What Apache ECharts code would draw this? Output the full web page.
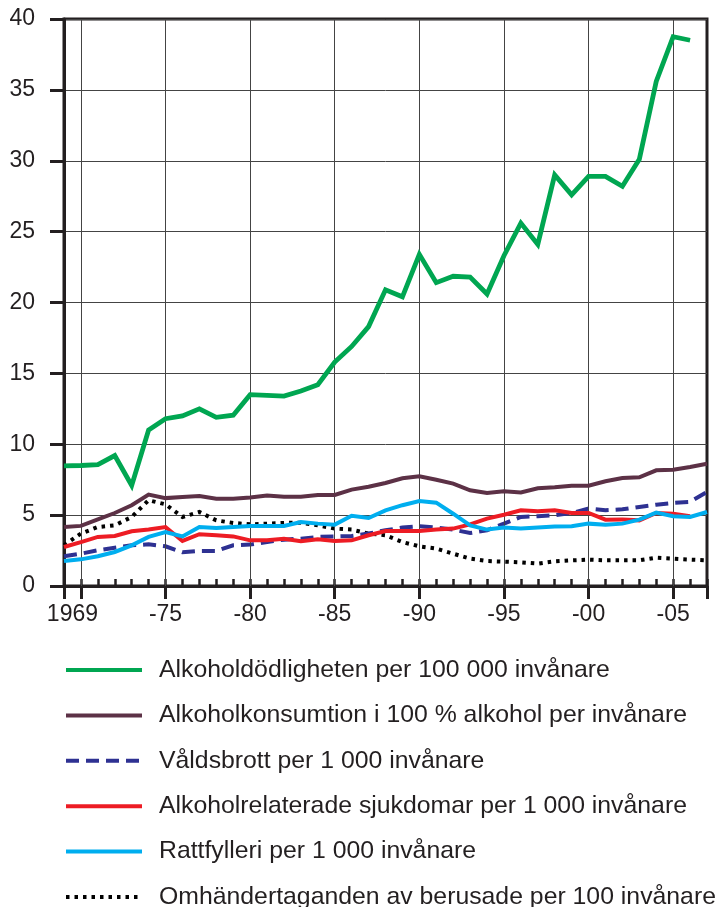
<!DOCTYPE html>
<html>
<head>
<meta charset="UTF-8" />
<title>Alkohol</title>
<script src="https://cdn.jsdelivr.net/npm/echarts@6/dist/echarts.min.js"></script>
<style>
  html, body { margin: 0; padding: 0; background: #fff; }
  #chart { width: 726px; height: 907px; }
</style>
</head>
<body>
<div id="chart"></div>
<script>
// data
var years = [1969, 1970, 1971, 1972, 1973, 1974, 1975, 1976, 1977, 1978, 1979,
  1980, 1981, 1982, 1983, 1984, 1985, 1986, 1987, 1988, 1989,
  1990, 1991, 1992, 1993, 1994, 1995, 1996, 1997, 1998, 1999,
  2000, 2001, 2002, 2003, 2004, 2005, 2006, 2007];

var dodlighet = [8.47, 8.5, 8.56, 9.2, 7.1, 11.0, 11.8, 12.0, 12.5, 11.9, 12.05,
  13.5, 13.45, 13.4, 13.75, 14.2, 15.8, 16.9, 18.3, 20.9, 20.4,
  23.4, 21.4, 21.85, 21.8, 20.6, 23.3, 25.6, 24.1, 29.0, 27.6,
  28.9, 28.9, 28.2, 30.1, 35.6, 38.75, 38.5];

var konsumtion = [4.16, 4.24, 4.7, 5.15, 5.7, 6.45, 6.2, 6.28, 6.35, 6.16, 6.16,
  6.24, 6.38, 6.3, 6.3, 6.42, 6.42, 6.8, 7.0, 7.27, 7.6,
  7.74, 7.5, 7.22, 6.75, 6.56, 6.68, 6.6, 6.9, 6.96, 7.08,
  7.08, 7.39, 7.62, 7.67, 8.16, 8.2, 8.4, 8.63];

var valdsbrott = [2.1, 2.28, 2.52, 2.7, 2.87, 2.94, 2.8, 2.38, 2.47, 2.47, 2.87,
  2.92, 3.1, 3.27, 3.34, 3.46, 3.5, 3.53, 3.7, 3.93, 4.12,
  4.21, 4.12, 3.98, 3.74, 3.93, 4.4, 4.87, 4.92, 4.99, 5.15,
  5.46, 5.34, 5.41, 5.58, 5.74, 5.86, 5.93, 6.64];

var sjukdomar = [2.75, 3.1, 3.46, 3.53, 3.86, 3.98, 4.16, 3.18, 3.65, 3.58, 3.5,
  3.22, 3.22, 3.34, 3.15, 3.3, 3.18, 3.22, 3.58, 3.88, 3.88,
  3.88, 3.98, 4.05, 4.35, 4.75, 5.03, 5.34, 5.27, 5.34, 5.15,
  5.15, 4.68, 4.7, 4.63, 5.15, 5.1, 4.92];

var rattfylleri = [1.76, 1.88, 2.1, 2.4, 2.87, 3.46, 3.81, 3.5, 4.16, 4.09, 4.16,
  4.24, 4.24, 4.24, 4.52, 4.4, 4.33, 4.95, 4.8, 5.34, 5.7,
  6.0, 5.88, 5.1, 4.28, 3.98, 4.12, 4.05, 4.12, 4.19, 4.21,
  4.4, 4.33, 4.4, 4.68, 5.18, 4.92, 4.87, 5.22];

var omhandertaganden = [2.87, 3.7, 4.16, 4.28, 4.87, 6.05, 5.76, 4.87, 5.22, 4.63, 4.45,
  4.35, 4.4, 4.45, 4.47, 4.28, 4.05, 3.98, 3.7, 3.58, 3.1,
  2.8, 2.64, 2.28, 1.93, 1.76, 1.72, 1.67, 1.58, 1.74, 1.81,
  1.86, 1.81, 1.81, 1.81, 2.0, 1.93, 1.86, 1.81];

var gridYears = [1970, 1975, 1980, 1985, 1990, 1995, 2000, 2005];
var majorTicks = [1969, 1970, 1975, 1980, 1985, 1990, 1995, 2000, 2005, 2007];

var names = [
  'Alkoholdödligheten per 100 000 invånare',
  'Alkoholkonsumtion i 100 % alkohol per invånare',
  'Våldsbrott per 1 000 invånare',
  'Alkoholrelaterade sjukdomar per 1 000 invånare',
  'Rattfylleri per 1 000 invånare',
  'Omhändertaganden av berusade per 100 invånare'
];

var ink = '#231f20';
var font = "'Liberation Sans', Arial, sans-serif";

function pairs(vals) {
  var out = [];
  for (var i = 0; i < vals.length; i++) out.push([years[i], vals[i]]);
  return out;
}

function line(name, vals, color, width, type, z) {
  return {
    name: name,
    type: 'line',
    xAxisIndex: 0,
    data: pairs(vals),
    showSymbol: false,
    symbol: 'none',
    z: z,
    silent: true,
    lineStyle: { color: color, width: width, type: type, cap: 'butt', join: 'miter' },
    itemStyle: { color: color }
  };
}

var chart = echarts.init(document.getElementById('chart'));

chart.setOption({
  animation: false,
  textStyle: { fontFamily: font },
  grid: {
    left: 64, right: 19, top: 19, bottom: 321,
    show: true, borderColor: ink, borderWidth: 3, backgroundColor: 'transparent'
  },
  legend: {
    orient: 'vertical',
    left: 64,
    top: 657.5,
    height: 300,
    padding: 0,
    itemWidth: 76,
    itemHeight: 14,
    itemGap: 20.4,
    selectedMode: false,
    data: names,
    itemStyle: { opacity: 0 },
    lineStyle: { width: 4 },
    textStyle: { fontSize: 24.8, color: ink, padding: [0, 0, 0, 12], fontFamily: font }
  },
  xAxis: [{
    type: 'value',
    min: 1969,
    max: 2007,
    axisLine: { show: true, lineStyle: { color: ink, width: 3 } },
    axisTick: {
      show: true, inside: false, length: 13, customValues: majorTicks,
      lineStyle: { color: ink, width: 3 }
    },
    axisLabel: {
      show: true, customValues: gridYears, margin: 17,
      fontSize: 23, color: ink, fontFamily: font,
      formatter: function (v) {
        if (v === 1970) return '{a|1969}';
        return '-' + String(v).slice(2);
      },
      rich: { a: { fontSize: 23, color: ink, fontFamily: font, padding: [0, 17, 0, 0] } }
    },
    splitLine: { show: false }
  }, {
    type: 'value',
    min: 1969,
    max: 2007,
    interval: 1,
    position: 'bottom',
    axisLine: { show: false },
    axisTick: { show: true, inside: true, length: 7, lineStyle: { color: ink, width: 2.5 } },
    axisLabel: { show: false },
    splitLine: { show: false }
  }],
  yAxis: {
    type: 'value',
    min: 0,
    max: 40,
    interval: 5,
    axisLine: { show: true, lineStyle: { color: ink, width: 3 } },
    axisTick: { show: true, inside: false, length: 14, lineStyle: { color: ink, width: 3 } },
    axisLabel: { fontSize: 23, color: ink, margin: 29, fontFamily: font },
    splitLine: { show: true, lineStyle: { color: '#444', width: 1 } }
  },
  series: [
    {
      name: 'grid',
      type: 'line',
      data: [],
      z: 1,
      silent: true,
      markLine: {
        silent: true,
        symbol: 'none',
        label: { show: false },
        lineStyle: { color: '#444', width: 1, type: 'solid' },
        data: gridYears.map(function (y) { return { xAxis: y }; })
      }
    },
    line(names[5], omhandertaganden, '#000000', 4, [3.5, 5], 3),
    line(names[2], valdsbrott, '#2e3192', 4, [13, 7], 4),
    line(names[3], sjukdomar, '#ed1c24', 4, 'solid', 5),
    line(names[4], rattfylleri, '#00aeef', 4, 'solid', 6),
    line(names[1], konsumtion, '#5c3146', 4, 'solid', 7),
    line(names[0], dodlighet, '#00a651', 4.8, 'solid', 8)
  ]
});
</script>
</body>
</html>
